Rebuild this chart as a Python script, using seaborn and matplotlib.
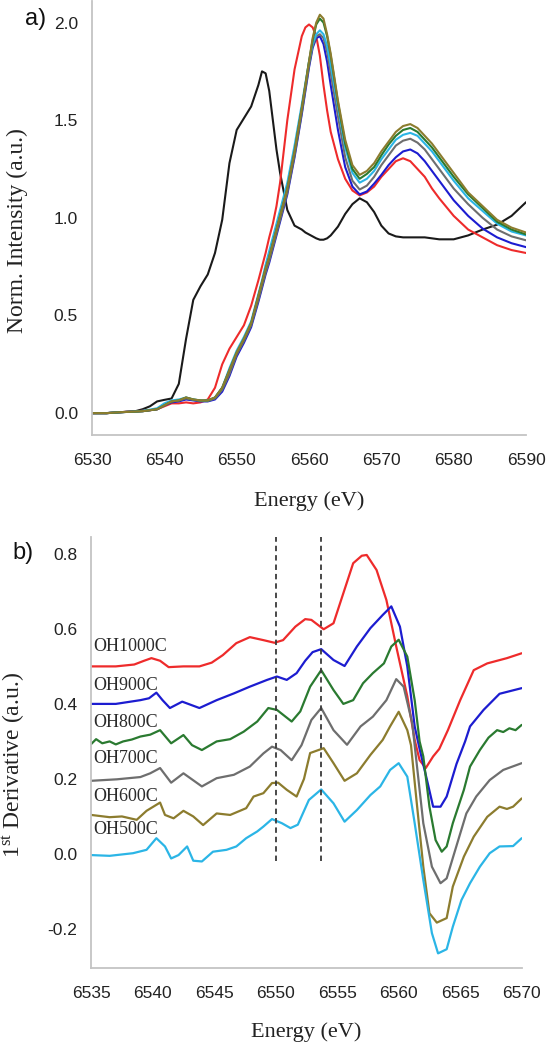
import matplotlib
matplotlib.use("Agg")
import matplotlib.pyplot as plt
import seaborn as sns
import pandas as pd

# ---------------- panel a) XANES spectra ----------------
energy_a = [6530, 6532, 6534, 6536, 6537, 6538, 6539, 6540, 6541, 6542, 6543, 6544, 6545, 6546,
            6547, 6548, 6549, 6550, 6551, 6552, 6553, 6553.5, 6554, 6554.5, 6555, 6555.5, 6556,
            6557, 6558, 6559, 6559.5, 6560, 6560.5, 6561, 6561.5, 6562, 6562.5, 6563, 6564, 6565,
            6566, 6567, 6568, 6569, 6570, 6571, 6572, 6573, 6574, 6575, 6576, 6577, 6578, 6580,
            6582, 6584, 6586, 6588, 6590]

ref_black = [0.00, 0.00, 0.005, 0.01, 0.02, 0.035, 0.06, 0.068, 0.075, 0.15, 0.38, 0.58, 0.65, 0.71,
             0.82, 0.99, 1.28, 1.45, 1.51, 1.57, 1.68, 1.75, 1.74, 1.65, 1.50, 1.35, 1.23,
             1.04, 0.96, 0.94, 0.925, 0.915, 0.905, 0.895, 0.888, 0.888, 0.895, 0.91, 0.955, 1.02,
             1.07, 1.10, 1.08, 1.03, 0.96, 0.92, 0.905, 0.90, 0.90, 0.90, 0.90, 0.895, 0.89, 0.89,
             0.91, 0.94, 0.965, 1.01, 1.08]

oh1000_a = [0.00, 0.00, 0.005, 0.01, 0.012, 0.015, 0.02, 0.035, 0.05, 0.05, 0.055, 0.05, 0.055, 0.07,
            0.13, 0.25, 0.33, 0.39, 0.45, 0.55, 0.68, 0.75, 0.82, 0.90, 0.97, 1.06, 1.18,
            1.50, 1.76, 1.93, 1.975, 1.99, 1.975, 1.93, 1.83, 1.68, 1.55, 1.44, 1.30, 1.20,
            1.14, 1.115, 1.13, 1.16, 1.21, 1.25, 1.29, 1.305, 1.29, 1.25, 1.21, 1.15, 1.10, 1.01,
            0.94, 0.90, 0.86, 0.835, 0.82]

oh900_a = [0.00, 0.00, 0.005, 0.008, 0.01, 0.015, 0.02, 0.04, 0.055, 0.06, 0.07, 0.065, 0.06, 0.06,
           0.07, 0.11, 0.19, 0.29, 0.36, 0.44, 0.57, 0.64, 0.71, 0.77, 0.84, 0.91, 0.98,
           1.12, 1.31, 1.53, 1.65, 1.77, 1.87, 1.92, 1.93, 1.89, 1.80, 1.68, 1.45, 1.26,
           1.16, 1.12, 1.135, 1.175, 1.22, 1.27, 1.31, 1.34, 1.35, 1.33, 1.29, 1.24, 1.19, 1.09,
           1.01, 0.945, 0.90, 0.87, 0.85]

oh800_a = [0.00, 0.00, 0.005, 0.008, 0.01, 0.015, 0.02, 0.04, 0.06, 0.065, 0.08, 0.07, 0.065, 0.065,
           0.08, 0.13, 0.22, 0.31, 0.38, 0.46, 0.60, 0.67, 0.74, 0.80, 0.87, 0.94, 1.01,
           1.15, 1.34, 1.56, 1.68, 1.80, 1.91, 1.99, 2.02, 2.00, 1.93, 1.83, 1.59, 1.38,
           1.25, 1.20, 1.225, 1.26, 1.32, 1.375, 1.42, 1.45, 1.46, 1.44, 1.40, 1.36, 1.31, 1.21,
           1.12, 1.05, 0.98, 0.94, 0.915]

oh700_a = [0.00, 0.00, 0.005, 0.008, 0.01, 0.015, 0.02, 0.04, 0.06, 0.065, 0.075, 0.068, 0.062, 0.062,
           0.075, 0.12, 0.20, 0.30, 0.37, 0.45, 0.58, 0.65, 0.72, 0.78, 0.85, 0.92, 0.99,
           1.13, 1.32, 1.54, 1.66, 1.78, 1.88, 1.93, 1.94, 1.92, 1.85, 1.74, 1.52, 1.31,
           1.19, 1.145, 1.165, 1.21, 1.27, 1.32, 1.37, 1.395, 1.405, 1.385, 1.35, 1.30, 1.25, 1.15,
           1.07, 1.00, 0.94, 0.905, 0.885]

oh600_a = [0.00, 0.00, 0.005, 0.008, 0.01, 0.015, 0.02, 0.04, 0.06, 0.065, 0.08, 0.07, 0.065, 0.065,
           0.08, 0.13, 0.22, 0.31, 0.38, 0.46, 0.60, 0.67, 0.74, 0.80, 0.87, 0.94, 1.01,
           1.15, 1.34, 1.56, 1.68, 1.80, 1.92, 2.00, 2.04, 2.02, 1.94, 1.84, 1.60, 1.40,
           1.27, 1.22, 1.24, 1.28, 1.34, 1.39, 1.44, 1.47, 1.48, 1.46, 1.42, 1.38, 1.33, 1.23,
           1.13, 1.06, 0.99, 0.95, 0.925]

oh500_a = [0.00, 0.00, 0.005, 0.008, 0.012, 0.018, 0.025, 0.05, 0.065, 0.07, 0.08, 0.07, 0.065, 0.065,
           0.08, 0.13, 0.23, 0.32, 0.39, 0.47, 0.61, 0.68, 0.76, 0.83, 0.90, 0.97, 1.04,
           1.18, 1.37, 1.58, 1.69, 1.80, 1.89, 1.94, 1.96, 1.94, 1.88, 1.78, 1.57, 1.36,
           1.23, 1.18, 1.20, 1.24, 1.30, 1.35, 1.40, 1.425, 1.435, 1.42, 1.38, 1.34, 1.29, 1.19,
           1.10, 1.035, 0.97, 0.93, 0.91]

xticks_a = [6530, 6540, 6550, 6560, 6570, 6580, 6590]
yticks_a = [0.0, 0.5, 1.0, 1.5, 2.0]

# ---------------- panel b) first derivatives ----------------
sample_names = ["OH1000C", "OH900C", "OH800C", "OH700C", "OH600C", "OH500C"]
label_levels = [0.552, 0.448, 0.350, 0.255, 0.153, 0.066]

e_1000 = [6535, 6537, 6538.5, 6539.3, 6539.9, 6540.6, 6541.3, 6542.5, 6543.8, 6544.8, 6545.7, 6546.8,
          6547.9, 6549.0, 6549.9, 6550.6, 6551.6, 6552.4, 6552.9, 6553.9, 6554.7, 6555.5, 6556.3,
          6557.0, 6557.4, 6558.2, 6559.0, 6559.8, 6560.7, 6561.3, 6561.7, 6562.2, 6562.8, 6563.3,
          6564.0, 6565.0, 6566.1, 6567.2, 6568.8, 6570.0]
d_1000 = [0.50, 0.50, 0.505, 0.515, 0.522, 0.515, 0.498, 0.50, 0.50, 0.51, 0.53, 0.562,
          0.578, 0.57, 0.563, 0.57, 0.606, 0.626, 0.624, 0.599, 0.615, 0.695, 0.775,
          0.795, 0.797, 0.757, 0.677, 0.553, 0.42, 0.304, 0.25, 0.229, 0.26, 0.28,
          0.33, 0.41, 0.49, 0.508, 0.522, 0.535]

e_900 = [6535, 6537, 6539.0, 6539.7, 6540.3, 6540.8, 6541.4, 6542.4, 6543.8, 6545.2, 6546.6, 6547.9,
         6549.3, 6550.1, 6550.9, 6551.7, 6552.4, 6553.0, 6553.7, 6554.7, 6555.6, 6556.6, 6557.7,
         6558.7, 6559.4, 6560.1, 6560.7, 6561.3, 6561.7, 6562.3, 6562.8, 6563.4, 6563.9, 6564.7,
         6565.4, 6565.8, 6566.9, 6568.2, 6570.0]
d_900 = [0.40, 0.40, 0.41, 0.415, 0.43, 0.41, 0.389, 0.406, 0.389, 0.41, 0.428, 0.446,
         0.464, 0.473, 0.464, 0.482, 0.515, 0.538, 0.546, 0.517, 0.501, 0.553, 0.602,
         0.637, 0.66, 0.606, 0.50, 0.34, 0.28, 0.197, 0.126, 0.126, 0.153, 0.24,
         0.30, 0.34, 0.384, 0.427, 0.442]

e_800 = [6535, 6535.4, 6535.9, 6536.5, 6537.0, 6537.6, 6538.3, 6539.0, 6539.8, 6540.6, 6541.5, 6542.5,
         6543.2, 6544.0, 6545.2, 6546.3, 6547.4, 6548.5, 6549.4, 6550.1, 6551.3, 6552.0, 6552.8,
         6553.7, 6554.7, 6555.5, 6556.3, 6557.1, 6557.9, 6558.8, 6559.4, 6560.0, 6560.7, 6561.3,
         6561.7, 6562.0, 6562.5, 6563.0, 6563.5, 6563.9, 6564.4, 6565.3, 6565.8, 6566.6, 6567.3,
         6568.0, 6568.5, 6569.0, 6569.5, 6570.0]
d_800 = [0.293, 0.306, 0.295, 0.30, 0.292, 0.30, 0.305, 0.313, 0.318, 0.33, 0.295, 0.317,
         0.29, 0.277, 0.30, 0.306, 0.326, 0.353, 0.389, 0.384, 0.353, 0.38, 0.446,
         0.49, 0.437, 0.40, 0.41, 0.455, 0.482, 0.508, 0.553, 0.571, 0.526, 0.41,
         0.30, 0.26, 0.126, 0.037, 0.006, 0.02, 0.082, 0.171, 0.233, 0.277, 0.31,
         0.33, 0.325, 0.335, 0.33, 0.344]

e_700 = [6535, 6537.1, 6539.0, 6539.8, 6540.6, 6541.5, 6542.5, 6544.0, 6545.2, 6546.6, 6547.9, 6549.0,
         6549.7, 6550.4, 6551.3, 6552.1, 6552.9, 6553.7, 6554.7, 6555.8, 6556.9, 6557.9, 6559.0,
         6559.8, 6560.4, 6561.1, 6561.5, 6562.0, 6562.7, 6563.4, 6563.9, 6564.6, 6565.5, 6566.3,
         6567.4, 6568.5, 6570.0]
d_700 = [0.195, 0.199, 0.205, 0.215, 0.229, 0.19, 0.215, 0.18, 0.202, 0.211, 0.233, 0.268,
         0.286, 0.277, 0.25, 0.29, 0.357, 0.389, 0.33, 0.291, 0.34, 0.366, 0.41,
         0.466, 0.446, 0.349, 0.23, 0.082, -0.034, -0.078, -0.065, 0.011, 0.108, 0.153,
         0.197, 0.224, 0.242]

e_600 = [6535, 6536.5, 6537.5, 6538.7, 6539.5, 6540.6, 6541.0, 6541.7, 6542.5, 6543.3, 6544.1, 6545.2,
         6546.3, 6547.6, 6548.2, 6549.0, 6549.7, 6550.2, 6550.9, 6551.7, 6552.3, 6552.8, 6553.9,
         6554.7, 6555.6, 6556.6, 6557.7, 6558.7, 6559.3, 6560.0, 6560.7, 6561.0, 6561.5, 6562.0,
         6562.5, 6563.1, 6563.9, 6564.4, 6565.3, 6566.1, 6567.2, 6568.2, 6568.8, 6569.3, 6570.0]
d_600 = [0.104, 0.098, 0.10, 0.091, 0.115, 0.137, 0.104, 0.095, 0.115, 0.10, 0.077, 0.108,
         0.104, 0.122, 0.153, 0.162, 0.189, 0.19, 0.171, 0.153, 0.20, 0.269, 0.282,
         0.242, 0.195, 0.215, 0.264, 0.304, 0.34, 0.379, 0.33, 0.29, 0.126, -0.034,
         -0.158, -0.183, -0.171, -0.087, -0.007, 0.046, 0.099, 0.126, 0.12, 0.126, 0.148]

e_500 = [6535, 6536.5, 6538.4, 6539.5, 6540.3, 6541.0, 6541.5, 6542.1, 6542.8, 6543.3, 6544.0, 6544.9,
         6546.0, 6546.8, 6547.6, 6548.5, 6549.0, 6549.7, 6550.5, 6551.2, 6551.8, 6552.7, 6553.7,
         6554.7, 6555.6, 6556.6, 6557.7, 6558.5, 6559.3, 6560.0, 6560.7, 6561.3, 6562.0, 6562.7,
         6563.2, 6563.9, 6564.4, 6565.1, 6565.8, 6566.6, 6567.4, 6568.2, 6569.3, 6570.0]
d_500 = [-0.003, -0.005, 0.002, 0.011, 0.042, 0.02, -0.012, -0.003, 0.02, -0.018, -0.02, 0.006,
         0.011, 0.02, 0.042, 0.06, 0.073, 0.093, 0.082, 0.069, 0.078, 0.144, 0.172,
         0.135, 0.086, 0.117, 0.157, 0.18, 0.224, 0.242, 0.206, 0.082, -0.069, -0.211,
         -0.265, -0.254, -0.194, -0.123, -0.078, -0.034, 0.002, 0.02, 0.021, 0.042]

marker_energies = [6550.0, 6553.7]
xticks_b = [6535, 6540, 6545, 6550, 6555, 6560, 6565, 6570]
yticks_b = [-0.2, 0.0, 0.2, 0.4, 0.6, 0.8]

colors = {"OH1000C": "#ee2b2b", "OH900C": "#1c1cd0", "OH800C": "#2a7a30",
          "OH700C": "#6e6e6e", "OH600C": "#8c7c2e", "OH500C": "#2bb5e6"}
ref_color = "#1a1a1a"

# ---------------- style ----------------
sns.set_theme(style="white")
SERIF = ["Liberation Serif", "DejaVu Serif"]
SANS = ["Liberation Sans", "DejaVu Sans"]
plt.rcParams["font.family"] = SANS
plt.rcParams["mathtext.fontset"] = "custom"
plt.rcParams["mathtext.rm"] = "Liberation Serif"
plt.rcParams["mathtext.it"] = "Liberation Serif:italic"
plt.rcParams["mathtext.bf"] = "Liberation Serif:bold"

fig = plt.figure(figsize=(5.48, 10.5), dpi=100)
ax_a = fig.add_axes([0.1679, 0.5857, 0.792, 0.4133])
ax_b = fig.add_axes([0.1664, 0.0781, 0.7856, 0.4105])

spine_col = "#c4c4c4"
tick_col = "#222222"


def style_axes(ax):
    for s in ["top", "right"]:
        ax.spines[s].set_visible(False)
    for s in ["left", "bottom"]:
        ax.spines[s].set_color(spine_col)
        ax.spines[s].set_linewidth(1.3)
    ax.tick_params(axis="both", direction="in", length=5, width=1.0, color=spine_col,
                   labelsize=12.5, labelcolor=tick_col)
    ax.tick_params(axis="x", pad=13)
    ax.tick_params(axis="y", pad=10)
    ax.grid(False)


# panel a
series_a = [("ref", ref_black, ref_color), ("OH1000C", oh1000_a, colors["OH1000C"]),
            ("OH900C", oh900_a, colors["OH900C"]), ("OH700C", oh700_a, colors["OH700C"]),
            ("OH500C", oh500_a, colors["OH500C"]), ("OH800C", oh800_a, colors["OH800C"]),
            ("OH600C", oh600_a, colors["OH600C"])]
for name, vals, col in series_a:
    df = pd.DataFrame({"E": energy_a, "I": vals})
    sns.lineplot(data=df, x="E", y="I", ax=ax_a, color=col, lw=1.5, legend=False)

ax_a.set_xlim(6530, 6590)
ax_a.set_ylim(-0.112, 2.11)
ax_a.set_xticks(xticks_a)
ax_a.set_yticks(yticks_a)
ax_a.set_yticklabels([f"{t:.1f}" for t in yticks_a])
style_axes(ax_a)
ax_a.set_xlabel("Energy (eV)", fontsize=16, family=SERIF, color="#222222")
ax_a.set_ylabel("Norm. Intensity (a.u.)", fontsize=17, family=SERIF, color="#222222")
ax_a.xaxis.set_label_coords(0.5, -0.13)
ax_a.yaxis.set_label_coords(-0.148, 0.47)

# panel b
series_b = [("OH1000C", e_1000, d_1000), ("OH900C", e_900, d_900), ("OH800C", e_800, d_800),
            ("OH700C", e_700, d_700), ("OH600C", e_600, d_600), ("OH500C", e_500, d_500)]
for name, ee, dd in series_b:
    df = pd.DataFrame({"E": ee, "D": dd})
    sns.lineplot(data=df, x="E", y="D", ax=ax_b, color=colors[name], lw=1.6, legend=False)

for xm in marker_energies:
    ax_b.vlines(xm, -0.02, 0.85, colors="#3a3a3a", linestyles=(0, (3, 2.2)), lw=1.3)

for name, lv in zip(sample_names, label_levels):
    ax_b.text(6535.15, lv, name, ha="left", va="center", fontsize=13, family=SERIF,
              color="#2a2a2a")

ax_b.set_xlim(6535, 6570)
ax_b.set_ylim(-0.304, 0.845)
ax_b.set_xticks(xticks_b)
ax_b.set_yticks(yticks_b)
ax_b.set_yticklabels([f"{t:.1f}" for t in yticks_b])
style_axes(ax_b)
ax_b.set_xlabel("Energy (eV)", fontsize=16, family=SERIF, color="#222222")
ax_b.set_ylabel(r"1$^{\mathrm{st}}$ Derivative (a.u.)", fontsize=17, family=SERIF,
                color="#222222")
ax_b.xaxis.set_label_coords(0.5, -0.125)
ax_b.yaxis.set_label_coords(-0.148, 0.47)

fig.text(36 / 548, 1 - 19 / 1050, "a)", fontsize=17, ha="center", va="center", color="#111111")
fig.text(23 / 548, 1 - 553 / 1050, "b)", fontsize=17, ha="center", va="center", color="#111111")

fig.savefig("out.png", dpi=100)
